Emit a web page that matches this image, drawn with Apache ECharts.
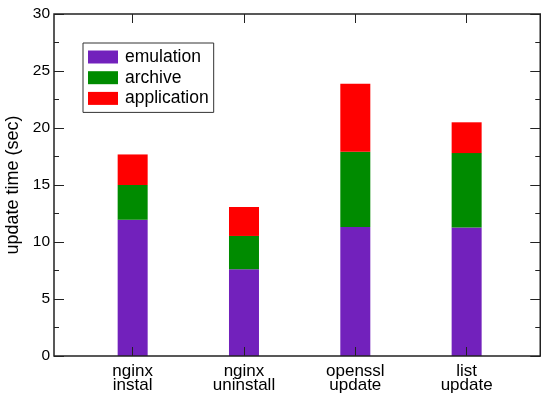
<!DOCTYPE html>
<html><head><meta charset="utf-8">
<script src="https://cdn.jsdelivr.net/npm/echarts@6/dist/echarts.min.js"></script>
<style>html,body{margin:0;padding:0;background:#fff}#c{width:541px;height:399px}</style>
</head><body><div id="c"></div>
<script>
const categories = ['nginx\ninstal', 'nginx\nuninstall', 'openssl\nupdate', 'list\nupdate'];
const emulation = [11.95, 7.6, 11.32, 11.27];
const archive = [3.05, 2.93, 6.6, 6.53];
const application = [2.68, 2.54, 5.97, 2.7];
const yTicks = [0, 5, 10, 15, 20, 25, 30];

const FONT = 'Liberation Sans, Arial, Helvetica, sans-serif';
const TOP = 14, BOTTOM = 43;
const chart = echarts.init(document.getElementById('c'));
const yMin = yTicks[0], yMax = yTicks[yTicks.length - 1];
const yCommon = {
  type: 'value', min: yMin, max: yMax, interval: 5, gridIndex: 0,
  axisLine: { show: false }, splitLine: { show: false },
  axisTick: { show: true, inside: true, length: 10, lineStyle: { color: '#222', width: 1 } },
  minorTick: { show: true, splitNumber: 2, length: 5, lineStyle: { color: '#222', width: 1 } },
  minorSplitLine: { show: false }
};
const catX = {
  type: 'category', data: categories, gridIndex: 1, boundaryGap: true, z: 5,
  axisLine: { show: false }, splitLine: { show: false },
  axisTick: { show: true, inside: true, length: 9, interval: 0, alignWithLabel: true, lineStyle: { color: '#222', width: 1 } }
};
chart.setOption({
  animation: false,
  backgroundColor: '#fff',
  textStyle: { fontFamily: FONT },
  grid: [
    { left: 54, right: 0.75, top: TOP, bottom: BOTTOM, containLabel: false, outerBoundsMode: 'none',
      show: true, borderColor: '#222', borderWidth: 1.5, backgroundColor: 'transparent', z: 3 },
    { left: 77, right: 18.7, top: TOP, bottom: BOTTOM, containLabel: false, outerBoundsMode: 'none' }
  ],
  legend: {
    orient: 'vertical', left: 83, top: 43,
    icon: 'rect', itemWidth: 30, itemHeight: 13, itemGap: 2.7,
    borderColor: '#333', borderWidth: 1, padding: [5, 5, 5, 5],
    textStyle: { fontSize: 17.5, lineHeight: 16, color: '#000', fontFamily: FONT, padding: [0, 0, 0, 2] },
    data: ['emulation', 'archive', 'application']
  },
  xAxis: [
    { type: 'value', gridIndex: 0, min: 0, max: 1, show: false },
    Object.assign({}, catX, {
      position: 'bottom',
      axisLabel: { show: true, margin: 8, fontSize: 17, lineHeight: 14.5, color: '#000', fontFamily: FONT }
    }),
    Object.assign({}, catX, { position: 'top', axisLabel: { show: false } })
  ],
  yAxis: [
    Object.assign({}, yCommon, {
      position: 'left',
      name: 'update time (sec)', nameLocation: 'middle', nameGap: 29,
      nameTextStyle: { fontSize: 18, color: '#000', fontFamily: FONT },
      axisLabel: { show: true, fontSize: 15.5, color: '#000', margin: 4, fontFamily: FONT }
    }),
    Object.assign({}, yCommon, { position: 'right', axisLabel: { show: false } }),
    { type: 'value', gridIndex: 1, min: yMin, max: yMax, show: false }
  ],
  series: [
    { name: 'emulation', type: 'bar', stack: 's', barWidth: 30, z: 1, xAxisIndex: 1, yAxisIndex: 2, itemStyle: { color: '#7221bc' }, data: emulation },
    { name: 'archive', type: 'bar', stack: 's', barWidth: 30, z: 1, xAxisIndex: 1, yAxisIndex: 2, itemStyle: { color: '#008b00' }, data: archive },
    { name: 'application', type: 'bar', stack: 's', barWidth: 30, z: 1, xAxisIndex: 1, yAxisIndex: 2, itemStyle: { color: '#ff0000' }, data: application }
  ]
});
</script></body></html>
